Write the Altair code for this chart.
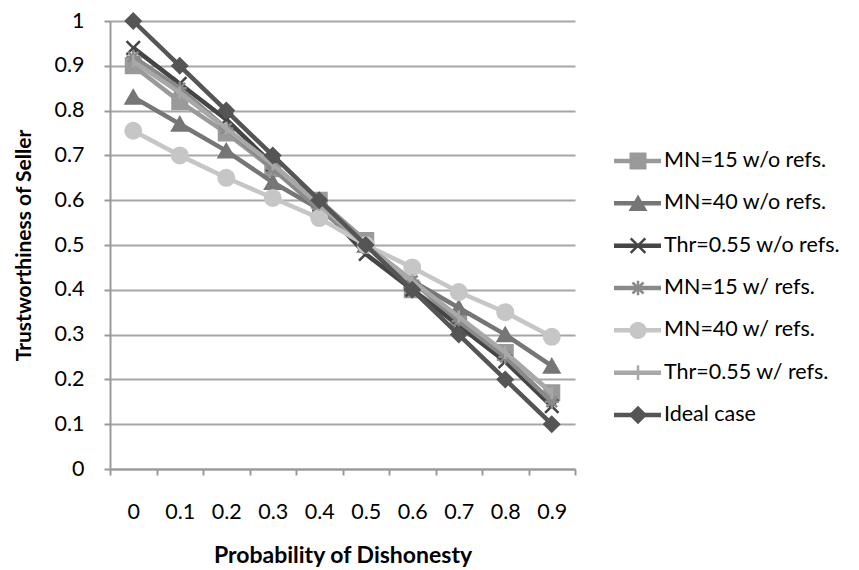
import altair as alt
import pandas as pd

x_labels = ["0", "0.1", "0.2", "0.3", "0.4", "0.5", "0.6", "0.7", "0.8", "0.9"]

series_names = [
    "MN=15 w/o refs.",
    "MN=40 w/o refs.",
    "Thr=0.55 w/o refs.",
    "MN=15 w/ refs.",
    "MN=40 w/ refs.",
    "Thr=0.55 w/ refs.",
    "Ideal case",
]

mn15_wo = [0.90, 0.82, 0.75, 0.67, 0.60, 0.51, 0.40, 0.33, 0.26, 0.17]
mn40_wo = [0.83, 0.77, 0.71, 0.64, 0.58, 0.50, 0.42, 0.36, 0.30, 0.23]
thr_wo = [0.94, 0.86, 0.78, 0.68, 0.59, 0.48, 0.40, 0.32, 0.24, 0.14]
mn15_w = [0.92, 0.85, 0.76, 0.67, 0.58, 0.50, 0.42, 0.33, 0.25, 0.15]
mn40_w = [0.755, 0.70, 0.65, 0.605, 0.56, 0.50, 0.45, 0.395, 0.35, 0.295]
thr_w = [0.91, 0.84, 0.76, 0.68, 0.59, 0.50, 0.42, 0.34, 0.26, 0.17]
ideal = [1.0, 0.9, 0.8, 0.7, 0.6, 0.5, 0.4, 0.3, 0.2, 0.1]

all_values = [mn15_wo, mn40_wo, thr_wo, mn15_w, mn40_w, thr_w, ideal]

colors = ["#9a9a9a", "#767676", "#454545", "#8a8a8a", "#c6c6c6", "#a8a8a8", "#555555"]
X_PATH = "M-1,-1L1,1M-1,1L1,-1"
STAR_PATH = "M-1,0L1,0M0,-1L0,1M-0.75,-0.75L0.75,0.75M-0.75,0.75L0.75,-0.75"
PLUS_PATH = "M0,-1L0,1"
shapes = ["square", "triangle-up", X_PATH, STAR_PATH, "circle", PLUS_PATH, "diamond"]
sizes = [210, 220, 180, 200, 240, 160, 210]

FONT = "Lato"
FS = 21.5

rows = []
for name, vals in zip(series_names, all_values):
    for xl, v in zip(x_labels, vals):
        rows.append({"series": name, "x": xl, "y": v})
df = pd.DataFrame(rows)

xenc = alt.X(
    "x:N",
    sort=x_labels,
    scale=alt.Scale(domain=x_labels, paddingInner=0, paddingOuter=0),
    axis=alt.Axis(
        title="Probability of Dishonesty",
        labelAngle=0,
        tickBand="extent",
        grid=False,
        labelPadding=26,
        titlePadding=22,
        titleFontSize=23,
    ),
)
yenc = alt.Y(
    "y:Q",
    scale=alt.Scale(domain=[0, 1], nice=False),
    axis=alt.Axis(
        title="Trustworthiness of Seller",
        values=[i / 10 for i in range(11)],
        format="~g",
        labelPadding=20,
        titlePadding=19,
        titleFontSize=21,
        grid=True,
    ),
)

layers = []
for i, name in enumerate(series_names):
    sub = df[df["series"] == name]
    base = alt.Chart(sub)
    line = base.mark_line(strokeWidth=4.5, color=colors[i]).encode(x=xenc, y=yenc)
    pts = base.mark_point(
        shape=shapes[i], size=sizes[i], filled=False, opacity=1,
        fill=colors[i], stroke=colors[i], strokeWidth=2.5,
    ).encode(x=xenc, y=yenc)
    layers += [line, pts]

main = alt.layer(*layers).properties(width=465, height=448)

leg_df = pd.DataFrame({"series": series_names})
leg_y = alt.Y("series:N", sort=series_names,
              scale=alt.Scale(type="point", domain=series_names, range=[140, 394], padding=0),
              axis=None)
color_scale = alt.Scale(domain=series_names, range=colors)
shape_scale = alt.Scale(domain=series_names, range=shapes)
size_scale = alt.Scale(domain=series_names, range=sizes)
lb = alt.Chart(leg_df)
leg_rule = lb.mark_rule(strokeWidth=4.5).encode(
    x=alt.value(0), x2=alt.value(47), y=leg_y,
    color=alt.Color("series:N", scale=color_scale, legend=None),
)
leg_pts = lb.mark_point(filled=False, opacity=1, strokeWidth=2.5).encode(
    x=alt.value(24), y=leg_y,
    shape=alt.Shape("series:N", scale=shape_scale, legend=None),
    stroke=alt.Color("series:N", scale=color_scale, legend=None),
    fill=alt.Color("series:N", scale=color_scale, legend=None),
    size=alt.Size("series:N", scale=size_scale, legend=None),
)
leg_text = lb.mark_text(align="left", baseline="middle", font=FONT, fontSize=FS, color="#000").encode(
    x=alt.value(50), y=leg_y, text="series:N",
)
legend = alt.layer(leg_rule, leg_pts, leg_text).properties(width=200, height=448)

chart = alt.hconcat(main, legend, spacing=35).configure_view(stroke=None).configure_axis(
    labelFont=FONT, labelFontSize=FS, labelColor="#000",
    titleFont=FONT, titleFontWeight="bold", titleColor="#000",
    domainColor="#999", domainWidth=2, tickColor="#999", tickWidth=2, tickSize=6,
    gridColor="#a6a6a6", gridWidth=2,
).properties(padding={"left": 5, "top": 0, "right": 0, "bottom": 0})

chart.save("out.html", embed_options={"renderer": "svg", "actions": False})
